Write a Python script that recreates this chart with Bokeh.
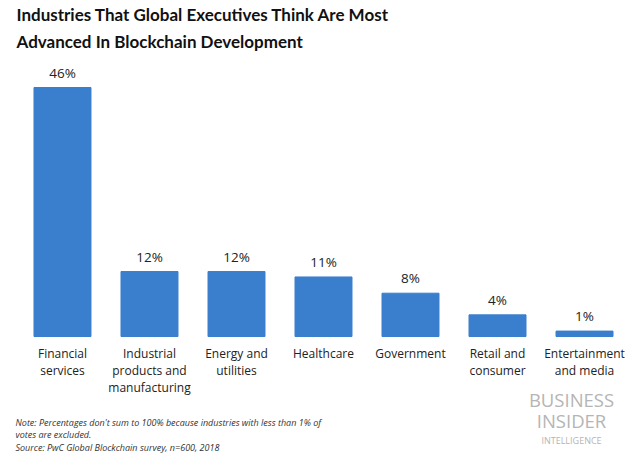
from bokeh.plotting import figure
from bokeh.models import FactorRange, Range1d, Label, ColumnDataSource
from bokeh.core.properties import value
from bokeh.embed import file_html
from bokeh.resources import INLINE

categories = ["Financial services", "Industrial products and manufacturing",
              "Energy and utilities", "Healthcare", "Government",
              "Retail and consumer", "Entertainment and media"]
category_labels = ["Financial\nservices", "Industrial\nproducts and\nmanufacturing",
                   "Energy and\nutilities", "Healthcare", "Government",
                   "Retail and\nconsumer", "Entertainment\nand media"]
values = [46, 12, 12, 11, 8, 4, 1]
value_labels = [f"{v}%" for v in values]

title_lines = ["Industries That Global Executives Think Are Most",
               "Advanced In Blockchain Development"]
note_lines = ["Note: Percentages don't sum to 100% because industries with less than 1% of",
              "votes are excluded.",
              "Source: PwC Global Blockchain survey, n=600, 2018"]

W, H = 641, 457
px_per = 5.413
base = 336
p = figure(width=W, height=H, output_backend="svg", toolbar_location=None,
           x_range=FactorRange(*categories, range_padding=0.155, range_padding_units="absolute"),
           y_range=Range1d(-(H - base) / px_per, base / px_per),
           min_border=0, min_border_left=5, min_border_right=0,
           min_border_top=0, min_border_bottom=0)
p.axis.visible = False
p.grid.visible = False
p.outline_line_color = None
p.background_fill_color = "white"

src = ColumnDataSource(dict(cat=categories, val=values, vlab=value_labels, clab=category_labels))
p.vbar(x="cat", top="val", bottom=0, width=0.655, source=src,
       fill_color="#3a7fcd", line_color="#3a7fcd")
p.text(x="cat", y="val", text="vlab", source=src, y_offset=-6,
       text_align="center", text_baseline="bottom", text_font=value("Open Sans"),
       text_font_size="13.5px", text_color="#222222")
p.text(x="cat", y=-8.5 / px_per, text="clab", source=src,
       text_align="center", text_baseline="top", text_font=value("Open Sans"),
       text_font_size="12px", text_color="#222222", text_line_height=1.0)

for i, yy in enumerate([443, 416]):
    p.add_layout(Label(x=11, y=yy, x_units="screen", y_units="screen", text=title_lines[i],
                       text_font="Lato", text_font_style="bold",
                       text_font_size="17px", text_baseline="alphabetic",
                       text_color="#111111"))

for i, yy in enumerate([35.3, 22.7, 10.3]):
    p.add_layout(Label(x=10, y=yy, x_units="screen", y_units="screen", text=note_lines[i],
                       text_font="Open Sans", text_font_style="italic", text_font_size="9px",
                       text_baseline="middle", text_color="#333333"))

logo = [("BUSINESS", "18.5px", 58), ("INSIDER", "18.5px", 37), ("INTELLIGENCE", "9px", 17)]
for t, fs, yy in logo:
    p.add_layout(Label(x=566, y=yy, x_units="screen", y_units="screen", text=t,
                       text_font="Open Sans", text_font_size=fs, text_align="center",
                       text_baseline="middle", text_color="#b5b5b5"))

open("out.html", "w").write(file_html(p, INLINE))
